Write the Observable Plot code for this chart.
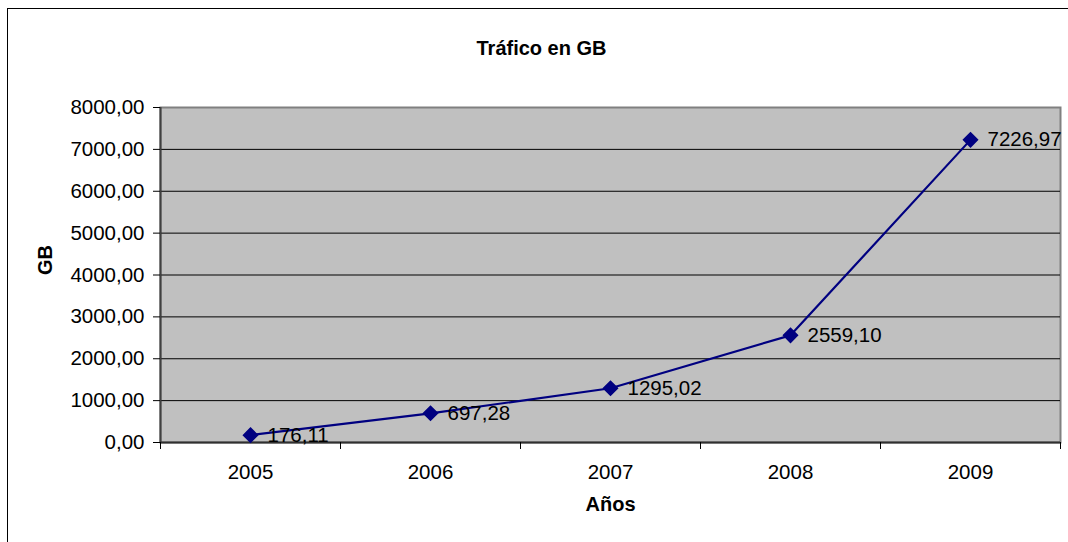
<!DOCTYPE html>
<html>
<head>
<meta charset="utf-8">
<script src="https://cdn.jsdelivr.net/npm/d3@7"></script>
<script src="https://cdn.jsdelivr.net/npm/@observablehq/plot@0.6"></script>
<style>
  html, body { margin: 0; padding: 0; background: #fff; overflow: hidden; }
  #wrap { position: relative; width: 1068px; height: 542px; overflow: hidden; }
  #border { position: absolute; left: 7px; top: 8px; width: 1200px; height: 700px; border: 1.5px solid #000; pointer-events: none; box-sizing: border-box; }
  #chart { position: absolute; left: 0; top: 0; }
</style>
</head>
<body>
<div id="wrap">
  <div id="chart"></div>
  <div id="border"></div>
</div>
<script>
const years = ["2005", "2006", "2007", "2008", "2009"];
const traffic = [176.11, 697.28, 1295.02, 2559.10, 7226.97];
const yTicks = [0, 1000, 2000, 3000, 4000, 5000, 6000, 7000, 8000];
const gridValues = [1000, 2000, 3000, 4000, 5000, 6000, 7000];
const title = "Tráfico en GB";
const xTitle = "Años";
const yTitle = "GB";

const data = years.map((year, i) => ({i, year, value: traffic[i]}));
const fmt = d => d.toFixed(2).replace(".", ",");
const boundaries = d3.range(years.length + 1).map(k => k - 0.5);
const centers = years.map((_, i) => i);
const font = "Arial, 'Liberation Sans', sans-serif";

const chart = Plot.plot({
  width: 1068,
  height: 542,
  marginLeft: 160,
  marginRight: 8,
  marginTop: 107,
  marginBottom: 100,
  style: {fontFamily: font, fontSize: "20.5px", color: "#000", background: "transparent", overflow: "visible"},
  x: {domain: [-0.5, years.length - 0.5]},
  y: {domain: [0, 8000]},
  marks: [
    Plot.frame({fill: "#c0c0c0", stroke: "#808080", strokeWidth: 2}),
    Plot.ruleY(gridValues, {stroke: "#000", strokeWidth: 1}),
    Plot.ruleX([-0.5], {stroke: "#404040", strokeWidth: 2}),
    Plot.ruleY([0], {stroke: "#303030", strokeWidth: 2}),
    Plot.axisY({ticks: yTicks, tickSize: 7, tickPadding: 9, tickFormat: fmt, fontSize: 20.5, label: null, stroke: "#000"}),
    Plot.axisX({ticks: boundaries, tickSize: 7, tickFormat: () => "", label: null}),
    Plot.axisX({ticks: centers, tickSize: 0, tickPadding: 22, tickFormat: i => years[i], fontSize: 20.5, label: null}),
    Plot.line(data, {x: "i", y: "value", stroke: "#000080", strokeWidth: 2.2}),
    Plot.dot(data, {x: "i", y: "value", symbol: "diamond2", r: 6.3, fill: "#000080", stroke: "#000080"}),
    Plot.text(data, {x: "i", y: "value", text: d => fmt(d.value), textAnchor: "start", dx: 17, fontSize: 20.5, fill: "#000"}),
    Plot.text([title], {frameAnchor: "top", dx: -69, dy: -67, fontSize: 20, fontWeight: "bold", fill: "#000"}),
    Plot.text([xTitle], {frameAnchor: "bottom", dy: 68, fontSize: 20, fontWeight: "bold", fill: "#000"}),
    Plot.text([yTitle], {frameAnchor: "left", dx: -115, rotate: -90, fontSize: 20, fontWeight: "bold", fill: "#000"})
  ]
});
document.getElementById("chart").appendChild(chart);
</script>
</body>
</html>
